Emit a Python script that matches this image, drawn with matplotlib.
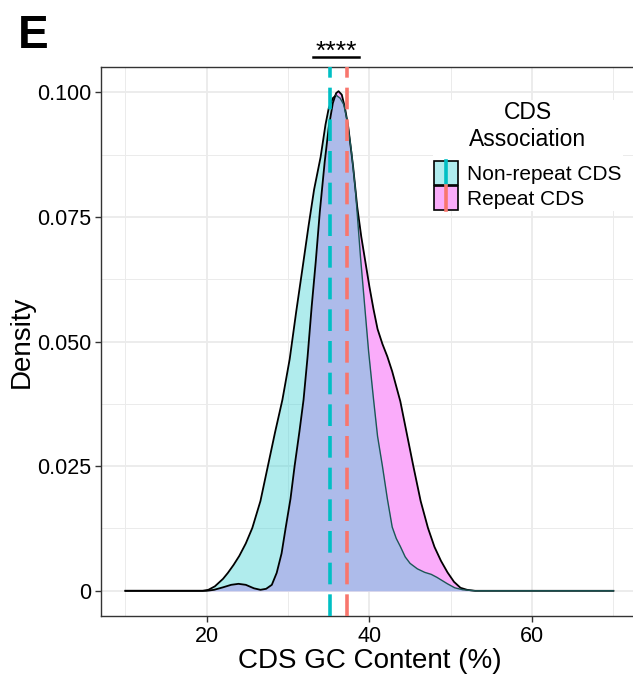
"""Density of CDS GC content: non-repeat vs repeat-associated CDS (panel E)."""
import matplotlib
matplotlib.use("Agg")
import matplotlib.pyplot as plt
from matplotlib.legend_handler import HandlerBase
from matplotlib.lines import Line2D
from matplotlib.patches import Rectangle
from matplotlib.ticker import MultipleLocator, FixedLocator

plt.rcParams["font.family"] = ["Liberation Sans", "DejaVu Sans"]

# density curves (GC %, density)
nonrep_x = [10, 19.5, 20.2, 21.0, 22.0, 22.6, 23.3, 24.0, 24.8, 25.6, 26.6, 27.5,
            28.4, 29.3, 30.2, 31.0, 31.8, 32.5, 33.2, 34.0, 34.6, 35.0, 35.5,
            35.9, 36.4, 36.85, 37.3, 37.8, 38.3, 38.9, 39.4, 39.9, 40.5, 41.0,
            41.6, 42.2, 42.8, 43.3, 43.8, 44.4, 45.0, 45.9, 46.8, 47.6, 48.3,
            49.0, 49.6, 50.5, 51.5, 53.0, 70]
nonrep_y = [0, 0, 0.0002, 0.0009, 0.0024, 0.0036, 0.0052, 0.0070, 0.0095, 0.0126,
            0.0180, 0.0249, 0.0318, 0.0383, 0.0465, 0.0560, 0.0650, 0.0730,
            0.0805, 0.0870, 0.0935, 0.0968, 0.0988, 0.0994, 0.0988, 0.0975,
            0.0940, 0.0880, 0.0800, 0.0670, 0.0575, 0.0480, 0.0385, 0.0310,
            0.0250, 0.0185, 0.0128, 0.0105, 0.0089, 0.0068, 0.0055, 0.0044,
            0.0037, 0.0033, 0.0027, 0.0020, 0.0014, 0.0006, 0.0002, 0, 0]

rep_x = [10, 20.0, 20.9, 22.0, 23.0, 23.9, 24.8, 25.8, 26.6, 27.3, 28.0, 28.6,
         29.2, 29.7, 30.3, 30.8, 31.4, 31.9, 32.4, 32.9, 33.4, 33.9, 34.5, 35.0,
         35.5, 35.9, 36.2, 36.6, 37.0, 37.4, 38.0, 38.5, 39.0, 39.5, 40.0, 40.5,
         41.0, 41.6, 42.2, 42.8, 43.3, 43.8, 44.6, 45.4, 46.3, 47.2, 48.0, 48.8,
         49.6, 50.4, 51.2, 52.0, 53.0, 70]
rep_y = [0, 0, 0.0002, 0.0007, 0.0012, 0.0014, 0.0012, 0.0005, 0.0002, 0.0004,
         0.0012, 0.0036, 0.0075, 0.0126, 0.0185, 0.0250, 0.0320, 0.0383, 0.0470,
         0.0570, 0.0660, 0.0760, 0.0860, 0.0930, 0.0978, 0.0998, 0.1002, 0.0995,
         0.0968, 0.0930, 0.0850, 0.0770, 0.0710, 0.0660, 0.0610, 0.0565, 0.0525,
         0.0495, 0.0470, 0.0440, 0.0410, 0.0380, 0.0315, 0.0250, 0.0180, 0.0126,
         0.0088, 0.0060, 0.0037, 0.0018, 0.0006, 0.0002, 0, 0]

group_labels = ["Non-repeat CDS", "Repeat CDS"]
group_means = [35.1, 37.2]
mean_colors = ["#00BFC4", "#F8766D"]
signif_label = "****"
signif_span = [33.1, 38.7]

x_ticks = [20, 40, 60]
y_ticks = [0, 0.025, 0.050, 0.075, 0.100]
y_ticklabels = ["0", "0.025", "0.050", "0.075", "0.100"]


class KeyStyle:
    def __init__(self, face, line):
        self.face = face
        self.line = line


class KeyHandler(HandlerBase):
    def create_artists(self, legend, orig_handle, xdescent, ydescent,
                       width, height, fontsize, trans):
        rect = Rectangle((-xdescent, -ydescent), width, height,
                         facecolor=orig_handle.face, edgecolor="black",
                         lw=1.2, transform=trans)
        xm = -xdescent + width / 2
        line = Line2D([xm, xm], [-ydescent, -ydescent + height],
                      color=orig_handle.line, lw=2.6, transform=trans)
        return [rect, line]


fig = plt.figure(figsize=(6.33, 6.79), dpi=100)
ax = fig.add_axes([0.1596, 0.0928, 0.848, 0.8085])

ax.fill_between(rep_x, rep_y, 0, color="#FAACFA", lw=0, zorder=2)
ax.fill_between(nonrep_x, nonrep_y, 0, color="#43D2D6", alpha=0.42, lw=0, zorder=3)

peak = 35.9
left_x = [v for v in nonrep_x if v <= peak]
left_y = nonrep_y[:len(left_x)]
right_x = nonrep_x[len(left_x) - 1:]
right_y = nonrep_y[len(left_x) - 1:]
ax.plot(rep_x, rep_y, color="black", lw=1.3, zorder=4)
ax.plot(left_x, left_y, color="black", lw=1.3, zorder=4)
ax.plot(right_x, right_y, color="#1c5656", lw=1.0, zorder=4)

lw_dash = 2.6
for m, c in zip(group_means, mean_colors):
    ax.axvline(m, color=c, lw=lw_dash, zorder=5,
               linestyle=(0, (15.6 / lw_dash, 7.2 / lw_dash)))

ax.set_xlim(7, 73)
ax.set_ylim(-0.00505, 0.10505)
ax.xaxis.set_major_locator(FixedLocator(x_ticks))
ax.xaxis.set_minor_locator(MultipleLocator(10))
ax.yaxis.set_major_locator(FixedLocator(y_ticks))
ax.yaxis.set_minor_locator(MultipleLocator(0.0125))
ax.set_yticklabels(y_ticklabels)
ax.grid(which="major", color="#EBEBEB", lw=1.3, zorder=0)
ax.grid(which="minor", color="#EBEBEB", lw=0.7, zorder=0)
ax.set_axisbelow(True)
ax.tick_params(which="major", length=4, width=1.0, color="#333333",
               labelsize=15.5, labelcolor="black", pad=3)
ax.tick_params(which="minor", length=0)
for s in ax.spines.values():
    s.set_color("#333333")
    s.set_linewidth(1.0)

ax.set_xlabel("CDS GC Content (%)", fontsize=20, labelpad=1)
ax.set_ylabel("Density", fontsize=20, labelpad=2)

# significance bracket above panel
btrans = ax.get_xaxis_transform()
ax.plot(signif_span, [1.018, 1.018], color="black", lw=1.8,
        transform=btrans, clip_on=False)
ax.text(sum(signif_span) / 2, 1.005, signif_label, transform=btrans,
        ha="center", va="bottom", fontsize=19)

handles = [KeyStyle("#B0ECEE", mean_colors[0]), KeyStyle("#FAACFA", mean_colors[1])]
leg = ax.legend(handles, group_labels, handler_map={KeyStyle: KeyHandler()},
                title="CDS\nAssociation", loc="upper left",
                bbox_to_anchor=(0.599, 0.959), fontsize=15, title_fontsize=16.5,
                frameon=True, fancybox=False, framealpha=1, edgecolor="none",
                handlelength=1.15, handleheight=1.4, labelspacing=0.05,
                handletextpad=0.45, borderpad=0.05, alignment="center")
leg.get_title().set_multialignment("center")
leg.get_title().set_linespacing(1.25)
leg._legend_box.sep = 7.0

fig.text(0.028, 0.929, "E", fontsize=33, fontweight="bold", va="baseline")

fig.savefig("out.png", dpi=100)
